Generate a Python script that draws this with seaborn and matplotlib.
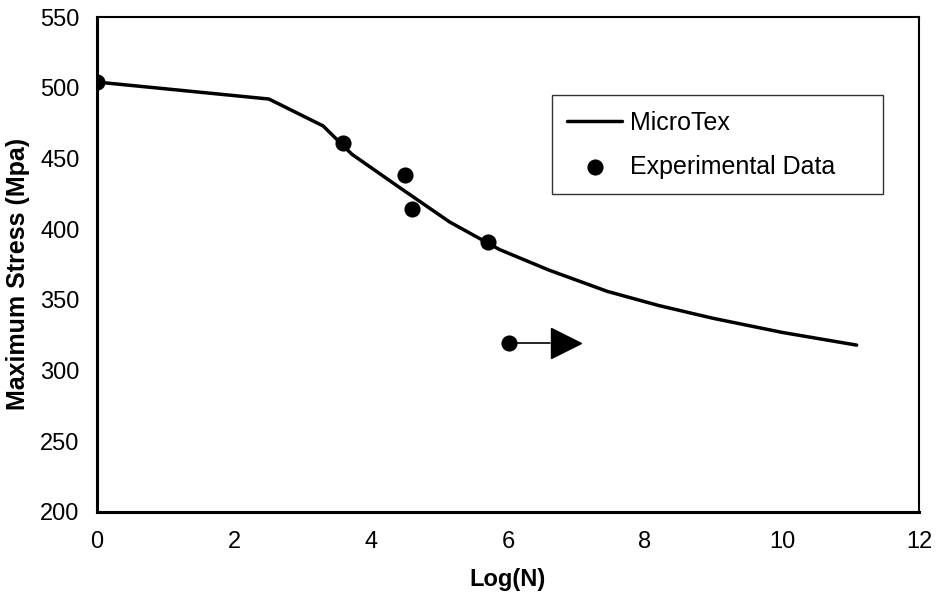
import numpy as np
import pandas as pd
import seaborn as sns
import matplotlib.pyplot as plt

# MicroTex model curve
model_logn = [0.0, 2.51, 3.30, 3.72, 4.4, 5.15, 5.88, 6.6, 7.45, 8.2, 8.99, 10.0, 11.09]
model_stress = [504, 492, 473, 453, 430, 405, 385.5, 371, 356, 346, 337, 327, 318]

# experimental points
exp_logn = [0.0, 3.59, 4.50, 4.60, 5.71, 6.01]
exp_stress = [504, 461, 438.5, 414.5, 391, 319.5]

# run-out arrow on the last point
runout_logn = [6.01, 6.62]
runout_stress = [319.5, 319.5]
runout_head_logn = 6.84

sns.set_style("white")
plt.rcParams["font.family"] = ["Liberation Sans", "DejaVu Sans"]
plt.rcParams.update({"text.color": "black", "axes.labelcolor": "black",
                     "xtick.color": "black", "ytick.color": "black"})

df_model = pd.DataFrame({"logn": model_logn, "stress": model_stress})
df_exp = pd.DataFrame({"logn": exp_logn, "stress": exp_stress})

fig = plt.figure(figsize=(9.42, 5.96), dpi=100)
ax = fig.add_axes([97 / 942, 1 - 512 / 596, 822 / 942, 495 / 596])

sns.lineplot(x="logn", y="stress", data=df_model, ax=ax, color="black",
             linewidth=2.5, label="MicroTex", sort=False)
sns.scatterplot(x="logn", y="stress", data=df_exp, ax=ax, color="black",
                s=135, linewidth=0, label="Experimental Data", zorder=3)

# run-out arrow
ax.plot(runout_logn, runout_stress, color="black", linewidth=1.2, zorder=2)
ax.plot([runout_head_logn], [runout_stress[0]], marker=">", markersize=22,
        color="black", linestyle="none", zorder=3)

ax.set_xlim(0, 12)
ax.set_ylim(200, 550)
ax.set_xticks(np.arange(0, 13, 2))
ax.set_yticks(np.arange(200, 551, 50))
ax.tick_params(axis="both", labelsize=17, direction="inout", length=9,
               width=1, color="black", labelcolor="black")
ax.tick_params(axis="x", pad=9)
ax.tick_params(axis="y", pad=8)

for side in ["left", "bottom"]:
    ax.spines[side].set_linewidth(2.2)
for side in ["top", "right"]:
    ax.spines[side].set_linewidth(1.5)
for sp in ax.spines.values():
    sp.set_color("black")

ax.set_xlabel("Log(N)", fontsize=17, fontweight="bold", color="black")
ax.set_ylabel("Maximum Stress (Mpa)", fontsize=18, fontweight="bold", color="black")
ax.xaxis.set_label_coords(0.499, -0.113)
ax.yaxis.set_label_coords(-0.082, 0.48)

leg = ax.legend(loc="upper left", bbox_to_anchor=(0.5535, 0.842, 0.403, 0.0),
                mode="expand", fontsize=18,
                frameon=True, fancybox=False, edgecolor="black",
                handlelength=2.2, borderpad=0.62, labelspacing=0.8,
                handletextpad=0.3, borderaxespad=0)
leg.get_frame().set_linewidth(1)
for t in leg.get_texts():
    t.set_color("black")

fig.savefig("out.png", dpi=100)
